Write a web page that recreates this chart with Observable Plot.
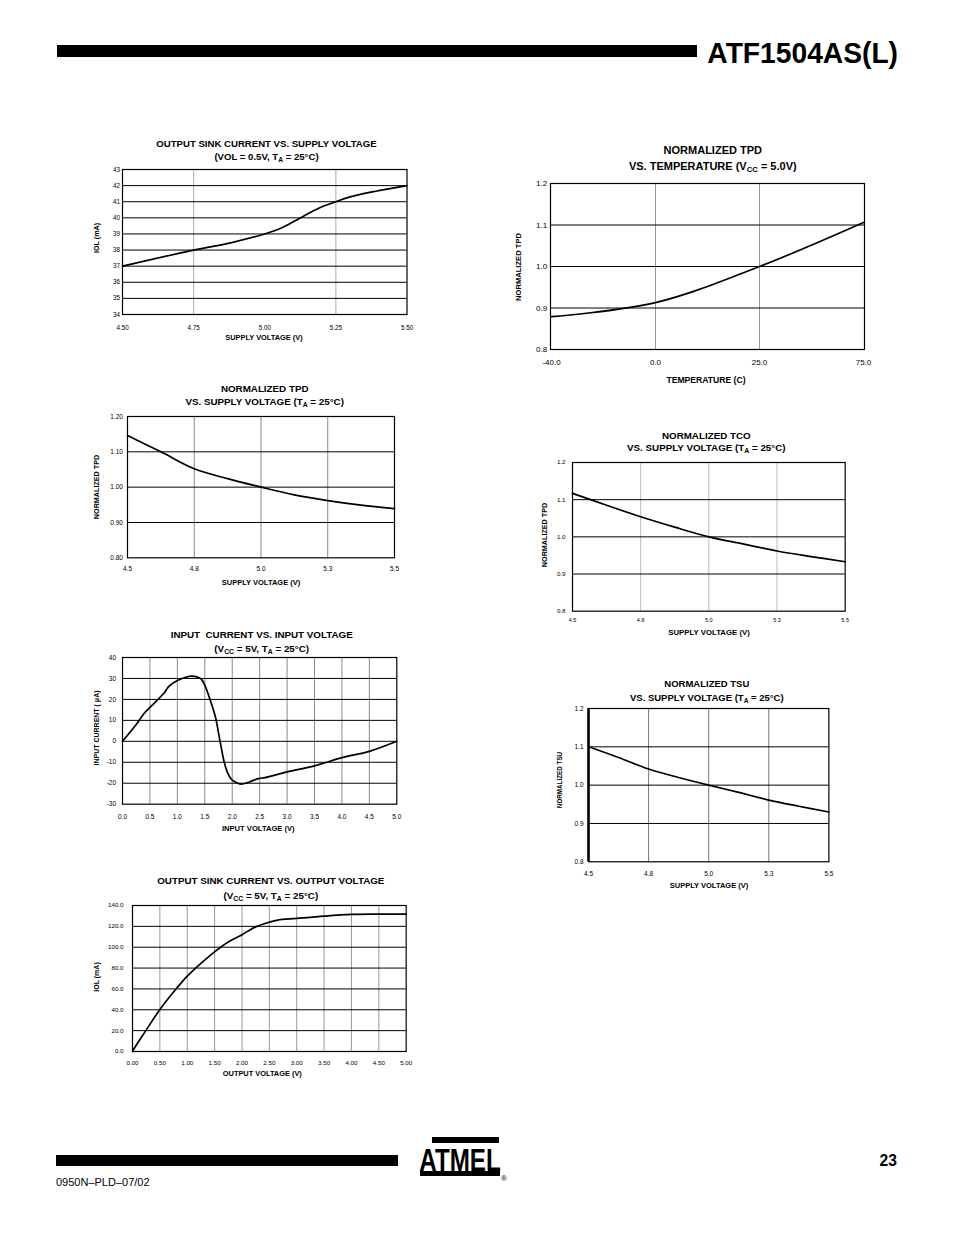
<!DOCTYPE html>
<html>
<head>
<meta charset="utf-8">
<script src="https://cdn.jsdelivr.net/npm/d3@7"></script>
<script src="https://cdn.jsdelivr.net/npm/@observablehq/plot@0.6"></script>
<style>
  html, body { margin: 0; padding: 0; background: #fff; }
  #page { position: relative; width: 954px; height: 1235px; overflow: hidden; background: #fff;
          font-family: "Liberation Sans", Arial, Helvetica, sans-serif; color: #000; }
  .t { position: absolute; white-space: pre; line-height: 1; }
  .t sub { font-size: 70%; vertical-align: -0.25em; line-height: 0; }
  .blk { position: absolute; background: #000; }
  svg { overflow: visible; }
</style>
</head>
<body>
<div id="page"></div>
<script>
// ---------------- DATA ----------------
// 1. Output sink current vs supply voltage
const sinkSupplyV   = [4.5, 4.75, 4.88, 5.0, 5.06, 5.12, 5.19, 5.25, 5.3, 5.39, 5.5];
const sinkSupplyIOL = [37, 38, 38.45, 39, 39.38, 39.95, 40.6, 41.0, 41.3, 41.65, 42];
const sinkSupplyXTicks = [4.5, 4.75, 5.0, 5.25, 5.5];
const sinkSupplyYTicks = [34, 35, 36, 37, 38, 39, 40, 41, 42, 43];

// 2. Normalized TPD vs temperature (category axis)
const temperatures = [-40, 0, 25, 75];
const tpdTemp      = [0.879, 0.913, 1.0, 1.106];

// shared supply-voltage axis for normalized charts
const supplyV = [4.5, 4.625, 4.75, 4.875, 5.0, 5.125, 5.25, 5.375, 5.5];
const supplyTicks = [4.5, 4.75, 5.0, 5.25, 5.5];
const normTicks = [0.8, 0.9, 1.0, 1.1, 1.2];

// 3. Normalized TPD vs supply voltage
const tpdSupply = [1.146, 1.10, 1.052, 1.024, 1.0, 0.978, 0.962, 0.949, 0.939];
// 6. Normalized TCO vs supply voltage
const tcoSupply = [1.117, 1.085, 1.054, 1.026, 1.0, 0.981, 0.962, 0.947, 0.933];
// 7. Normalized TSU vs supply voltage
const tsuSupply = [1.10, 1.072, 1.042, 1.02, 1.0, 0.981, 0.961, 0.945, 0.930];

// 4. Input current vs input voltage
const inputV = [0, 0.25, 0.4, 0.5, 0.75, 0.85, 1.0, 1.15, 1.27, 1.4, 1.45, 1.5, 1.6, 1.7, 1.75, 1.8, 1.85, 1.9, 1.95, 2.0, 2.1, 2.17, 2.25, 2.4, 2.5, 2.6, 3.0, 3.5, 4.0, 4.5, 5.0];
const inputI = [0, 8, 13.5, 16.2, 22.8, 26.3, 29, 30.6, 31.1, 30.3, 29.2, 26.8, 19.6, 11, 4, -3, -9.5, -14, -16.8, -18.5, -20, -20.4, -20, -18.5, -17.7, -17.3, -14.6, -11.7, -7.8, -4.8, 0];
const inputXTicks = [0, 0.5, 1, 1.5, 2, 2.5, 3, 3.5, 4, 4.5, 5];
const inputYTicks = [-30, -20, -10, 0, 10, 20, 30, 40];

// 5. Output sink current vs output voltage
const outV   = [0, 0.05, 0.25, 0.5, 0.75, 1.0, 1.25, 1.5, 1.75, 2.0, 2.25, 2.5, 2.65, 3.0, 3.5, 4.0, 4.5, 5.0];
const outIOL = [0, 4.5, 20.5, 40.3, 57, 72.2, 84.5, 95.6, 105, 112, 119.5, 124, 126, 127.6, 129.8, 131.4, 131.7, 131.7];
const outXTicks = [0, 0.5, 1, 1.5, 2, 2.5, 3, 3.5, 4, 4.5, 5];
const outYTicks = [0, 20, 40, 60, 80, 100, 120, 140];

// ---------------- HELPERS ----------------
const page = document.getElementById("page");
const FONT = '"Liberation Sans", Arial, Helvetica, sans-serif';

function txt(html, x, baseline, {size = 9.6, weight = "bold", anchor = "middle", sx = 1} = {}) {
  const d = document.createElement("div");
  d.className = "t";
  d.innerHTML = html;
  d.style.fontSize = size + "px";
  d.style.fontWeight = weight;
  d.style.top = (baseline - 0.85 * size) + "px";
  d.style.left = x + "px";
  const tx = anchor === "middle" ? "-50%" : anchor === "end" ? "-100%" : "0";
  d.style.transform = `translateX(${tx}) scaleX(${sx})`;
  d.style.transformOrigin = anchor === "end" ? "right" : anchor === "start" ? "left" : "center";
  page.appendChild(d);
  return d;
}
function vtxt(html, cx, cy, size) {
  const d = document.createElement("div");
  d.className = "t";
  d.innerHTML = html;
  d.style.fontSize = size + "px";
  d.style.fontWeight = "bold";
  d.style.left = cx + "px";
  d.style.top = cy + "px";
  d.style.transform = "translate(-50%,-50%) rotate(-90deg)";
  page.appendChild(d);
}
function blk(x, y, w, h) {
  const d = document.createElement("div");
  d.className = "blk";
  Object.assign(d.style, {left: x + "px", top: y + "px", width: w + "px", height: h + "px"});
  page.appendChild(d);
}

function chart(c) {
  const mL = 45, mR = 14, mT = 10, mB = 26;
  const w = c.R - c.L, h = c.B - c.T;
  const data = c.xs.map((x, i) => ({x, y: c.ys[i]}));
  const svg = Plot.plot({
    width: w + mL + mR, height: h + mT + mB,
    marginLeft: mL, marginRight: mR, marginTop: mT, marginBottom: mB,
    style: {fontFamily: FONT, fontSize: c.tickFont + "px", background: "transparent", overflow: "visible"},
    x: Object.assign({label: null}, c.xScale),
    y: {domain: c.yDomain, label: null},
    marks: [
      Plot.ruleX(c.vgrid, {stroke: c.vgridColor, strokeWidth: 1}),
      Plot.ruleY(c.hgrid, {stroke: "#000", strokeWidth: 1}),
      Plot.frame({stroke: "#000", strokeWidth: 1.2}),
      ...(c.extra || []),
      Plot.line(data, {x: "x", y: "y", curve: "catmull-rom", stroke: "#000", strokeWidth: 1.7}),
      Plot.axisX({ticks: c.xTicks, tickSize: 0, tickPadding: c.xPad, tickFormat: c.xFmt, fontSize: c.xTickFont || c.tickFont, label: null}),
      Plot.axisY({ticks: c.yTicks, tickSize: 0, tickPadding: c.yPad, tickFormat: c.yFmt, fontSize: c.tickFont, label: null})
    ]
  });
  svg.style.position = "absolute";
  svg.style.left = (c.L - mL) + "px";
  svg.style.top = (c.T - mT) + "px";
  page.appendChild(svg);

  const t = c.title;
  txt(t.l1, t.cx, t.b1, {size: t.size});
  txt(t.l2, t.cx, t.b2, {size: t.size});
  txt(c.xLabel.text, c.xLabel.cx, c.xLabel.b, {size: c.xLabel.size});
  vtxt(c.yLabel.text, c.yLabel.cx, c.yLabel.cy, c.yLabel.size);
}

// plain hyphen-minus formatters, as in the original
const f0 = d => (+d).toFixed(0), f1 = d => (+d).toFixed(1), f2 = d => (+d).toFixed(2);

// ---------------- PAGE HEADER ----------------
blk(57, 45, 640, 12);
txt("ATF1504AS(L)", 898, 63, {size: 30, anchor: "end", sx: 0.94});

// ---------------- CHARTS ----------------
// 1
chart({
  L: 121.5, R: 406, T: 168.5, B: 313.5,
  xs: sinkSupplyV, ys: sinkSupplyIOL,
  xScale: {domain: [4.5, 5.5]}, yDomain: [34, 43],
  xTicks: sinkSupplyXTicks, yTicks: sinkSupplyYTicks, xFmt: f2, yFmt: f0,
  vgrid: [4.75, 5.25], vgridColor: "#aaa", hgrid: sinkSupplyYTicks.slice(1, -1),
  tickFont: 6.3, xPad: 11, yPad: 2.5,
  title: {l1: "OUTPUT SINK CURRENT VS. SUPPLY VOLTAGE", l2: "(VOL = 0.5V, T<sub>A</sub> = 25°C)", cx: 266.5, b1: 147, b2: 160.5, size: 9.6},
  xLabel: {text: "SUPPLY VOLTAGE (V)", cx: 264, b: 340.7, size: 7.4},
  yLabel: {text: "IOL (mA)", cx: 96.7, cy: 238, size: 7.2}
});

// 2
chart({
  L: 550, R: 864, T: 183.3, B: 349.3,
  xs: temperatures, ys: tpdTemp,
  xScale: {type: "point", domain: temperatures, padding: 0}, yDomain: [0.8, 1.2],
  xTicks: temperatures, yTicks: normTicks, xFmt: f1, yFmt: f1,
  vgrid: [0, 25], vgridColor: "#999", hgrid: [0.9, 1.0, 1.1],
  tickFont: 8, xPad: 10, yPad: 3.3,
  title: {l1: "NORMALIZED TPD", l2: "VS. TEMPERATURE (V<sub>CC</sub> = 5.0V)", cx: 712.8, b1: 154, b2: 170.7, size: 11},
  xLabel: {text: "TEMPERATURE (C)", cx: 706, b: 383.3, size: 8.6},
  yLabel: {text: "NORMALIZED TPD", cx: 519, cy: 266.7, size: 7.6}
});

// 3
chart({
  L: 127.3, R: 394.3, T: 416, B: 557.3,
  xs: supplyV, ys: tpdSupply,
  xScale: {domain: [4.5, 5.5]}, yDomain: [0.8, 1.2],
  xTicks: supplyTicks, yTicks: normTicks, xFmt: f1, yFmt: f2,
  vgrid: [4.75, 5.0, 5.25], vgridColor: "#888", hgrid: [0.9, 1.0, 1.1],
  tickFont: 6.5, xPad: 9, yPad: 4.6,
  title: {l1: "NORMALIZED TPD", l2: "VS. SUPPLY VOLTAGE (T<sub>A</sub> = 25°C)", cx: 264.7, b1: 392.3, b2: 405.7, size: 9.8},
  xLabel: {text: "SUPPLY VOLTAGE (V)", cx: 261, b: 585.7, size: 7.5},
  yLabel: {text: "NORMALIZED TPD", cx: 96.7, cy: 486.7, size: 7.2}
});

// 4
chart({
  L: 121.7, R: 396, T: 657.3, B: 804,
  xs: inputV, ys: inputI,
  xScale: {domain: [0, 5]}, yDomain: [-30, 40],
  xTicks: inputXTicks, yTicks: inputYTicks, xFmt: f1, yFmt: f0,
  vgrid: inputXTicks.slice(1, -1), vgridColor: "#888", hgrid: inputYTicks.slice(1, -1),
  tickFont: 6.5, xPad: 9.7, yPad: 6.5,
  title: {l1: "INPUT  CURRENT VS. INPUT VOLTAGE", l2: "(V<sub>CC</sub> = 5V, T<sub>A</sub> = 25°C)", cx: 261.7, b1: 638.3, b2: 652.3, size: 9.8},
  xLabel: {text: "INPUT VOLTAGE (V)", cx: 258.3, b: 831.7, size: 7.6},
  yLabel: {text: "INPUT CURRENT ( μA)", cx: 95.7, cy: 728, size: 7}
});

// 5
chart({
  L: 132.3, R: 406, T: 905.3, B: 1051.3,
  xs: outV, ys: outIOL,
  xScale: {domain: [0, 5]}, yDomain: [0, 140],
  xTicks: outXTicks, yTicks: outYTicks, xFmt: f2, yFmt: f1,
  vgrid: outXTicks.slice(1, -1), vgridColor: "#999", hgrid: outYTicks.slice(1, -1),
  tickFont: 6.2, xPad: 9.4, yPad: 9,
  title: {l1: "OUTPUT SINK CURRENT VS. OUTPUT VOLTAGE", l2: "(V<sub>CC</sub> = 5V, T<sub>A</sub> = 25°C)", cx: 270.8, b1: 884, b2: 899.3, size: 9.8},
  xLabel: {text: "OUTPUT VOLTAGE (V)", cx: 262.3, b: 1076.7, size: 7.4},
  yLabel: {text: "IOL (mA)", cx: 95.7, cy: 976.7, size: 7}
});

// 6
chart({
  L: 572.3, R: 845, T: 462.3, B: 611,
  xs: supplyV, ys: tcoSupply,
  xScale: {domain: [4.5, 5.5]}, yDomain: [0.8, 1.2],
  xTicks: supplyTicks, yTicks: normTicks, xFmt: f1, yFmt: f1,
  vgrid: [4.75, 5.0, 5.25], vgridColor: "#bbb", hgrid: [0.9, 1.0, 1.1],
  tickFont: 6.2, xTickFont: 5.5, xPad: 6.8, yPad: 7,
  title: {l1: "NORMALIZED TCO", l2: "VS. SUPPLY VOLTAGE (T<sub>A</sub> = 25°C)", cx: 706.3, b1: 439, b2: 451.7, size: 9.8},
  xLabel: {text: "SUPPLY VOLTAGE (V)", cx: 709, b: 636, size: 7.8},
  yLabel: {text: "NORMALIZED TPD", cx: 545, cy: 535, size: 7.2}
});

// 7
chart({
  L: 588.3, R: 828.7, T: 707.7, B: 861,
  xs: supplyV, ys: tsuSupply,
  xScale: {domain: [4.5, 5.5]}, yDomain: [0.8, 1.2],
  xTicks: supplyTicks, yTicks: normTicks, xFmt: f1, yFmt: f1,
  vgrid: [4.75, 5.0, 5.25], vgridColor: "#777", hgrid: [0.9, 1.0, 1.1],
  extra: [Plot.ruleX([4.5], {stroke: "#000", strokeWidth: 2.6})],
  tickFont: 6.5, xPad: 9.4, yPad: 5,
  title: {l1: "NORMALIZED TSU", l2: "VS. SUPPLY VOLTAGE (T<sub>A</sub> = 25°C)", cx: 706.8, b1: 686.7, b2: 701, size: 9.5},
  xLabel: {text: "SUPPLY VOLTAGE (V)", cx: 709, b: 888.3, size: 7.5},
  yLabel: {text: "NORMALIZED TSU", cx: 560, cy: 780, size: 6.3}
});

// ---------------- PAGE FOOTER ----------------
blk(56, 1155, 342, 11);
txt("0950N–PLD–07/02", 56, 1186.5, {size: 11, weight: "normal", anchor: "start"});
txt("23", 897, 1166, {size: 17, anchor: "end", sx: 0.92});
// Atmel logo (approximation)
blk(432, 1137, 67, 6);
txt("ATMEL", 460, 1171, {size: 31, weight: "bold", sx: 0.78});
blk(420, 1171, 80, 5);
txt("®", 504, 1182, {size: 8, weight: "normal"});
</script>
</body>
</html>
